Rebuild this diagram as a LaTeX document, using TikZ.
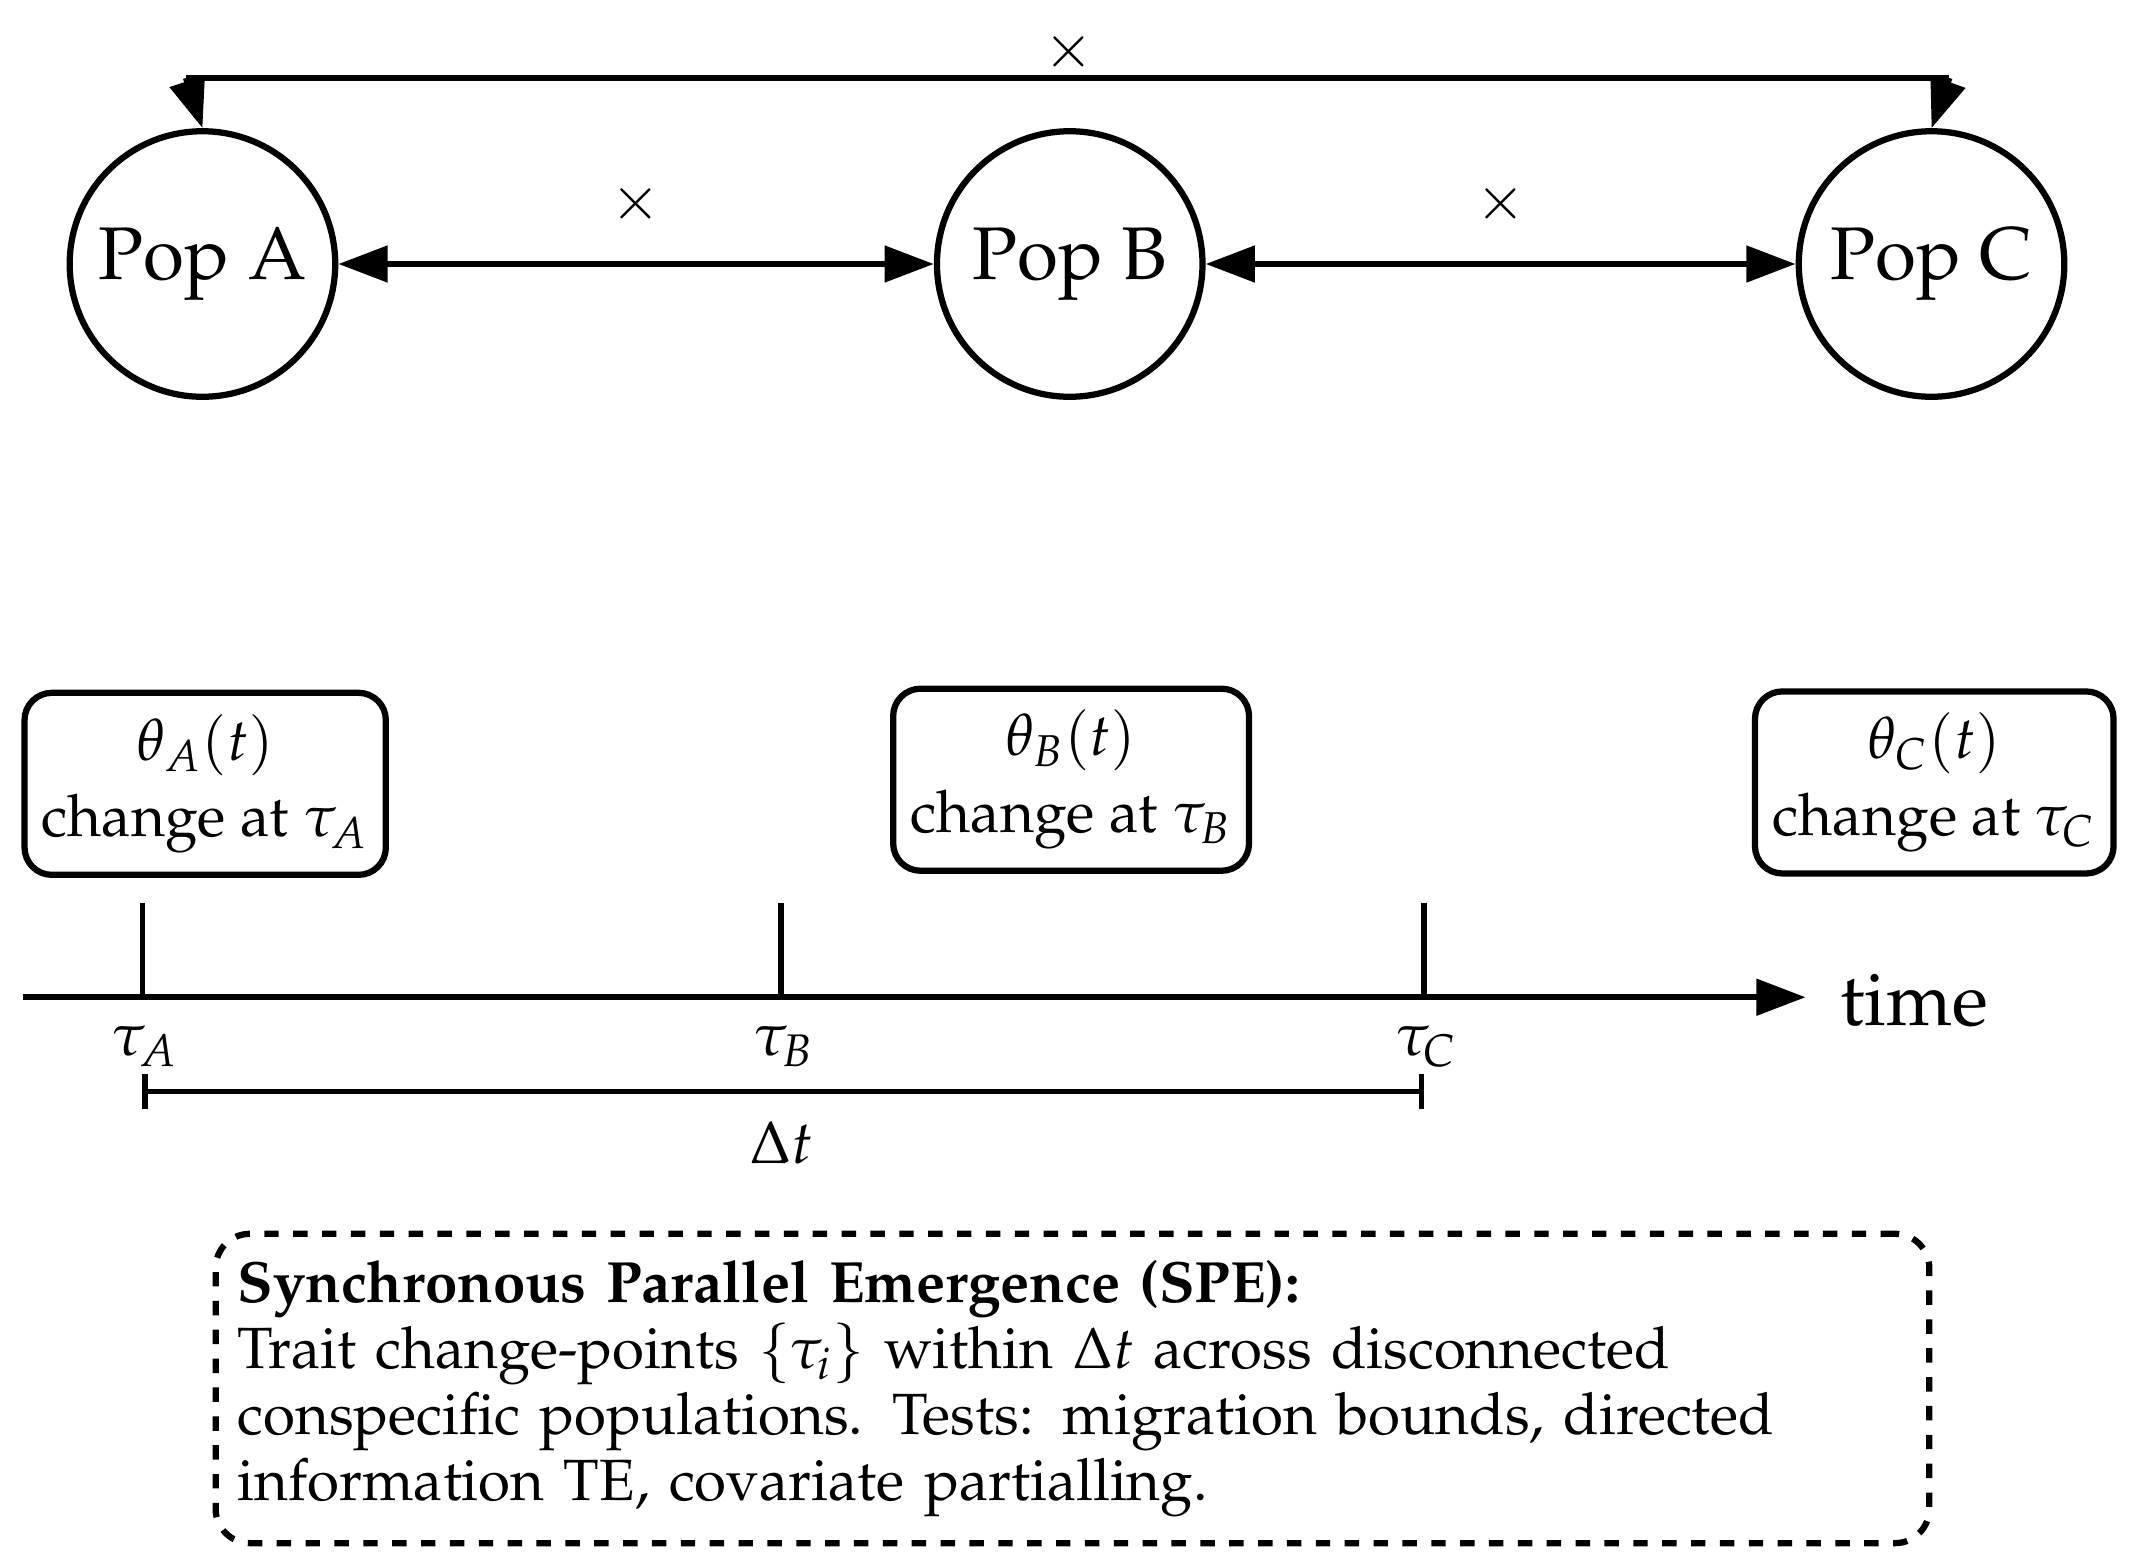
\documentclass[tikz,border=0pt]{standalone}
\usepackage[T1]{fontenc}
\usepackage{mathpazo}
\usetikzlibrary{arrows.meta}
\begin{document}
\begin{tikzpicture}[x=0.01cm,y=-0.01cm,
  pop/.style={circle,draw,line width=1.3pt,minimum size=1.94cm,inner sep=0pt,font=\fontsize{15.5}{19}\selectfont},
  box/.style={draw,line width=1.3pt,rounded corners=0.2cm,align=center,font=\fontsize{12.2}{16}\selectfont},
  arr/.style={line width=1.3pt,-{Triangle[length=0.36cm,width=0.26cm]}},
  darr/.style={line width=1.3pt,{Triangle[length=0.36cm,width=0.26cm]}-{Triangle[length=0.36cm,width=0.26cm]}},
  lab/.style={font=\fontsize{12.5}{15}\selectfont}]
\useasboundingbox (0,0) rectangle (1560,1146);
\node[pop] (A) at (148,193) {Pop A};
\node[pop] (B) at (782,193) {Pop B};
\node[pop] (C) at (1412,193) {Pop C};
\coordinate (tl) at (136,57);
\coordinate (tr) at (1425,57);
\draw[line width=1.3pt] (tl) -- (tr);
\draw[arr] (tl) -- (A.north);
\draw[arr] (tr) -- (C.north);
\node[lab] (x0) at (781,38) {$\times$};
\draw[darr] (A.east) -- (B.west) node[midway,above=0.15cm,lab] (x1) {$\times$};
\draw[darr] (B.east) -- (C.west) node[midway,above=0.15cm,lab] (x2) {$\times$};
\node[box,minimum width=2.64cm,minimum height=1.33cm] (bA) at (150,573) {$\theta_A(t)$\\change at $\tau_A$};
\node[box,minimum width=2.6cm,minimum height=1.33cm] (bB) at (783,570) {$\theta_B(t)$\\change at $\tau_B$};
\node[box,minimum width=2.62cm,minimum height=1.33cm] (bC) at (1414,572) {$\theta_C(t)$\\change at $\tau_C$};
\coordinate (ax0) at (17,729);
\coordinate (ax1) at (1320,729);
\draw[arr] (ax0) -- (ax1);
\node[lab,font=\fontsize{15.5}{19}\selectfont,anchor=west] (time) at (1333,731) {time};
\foreach \n/\x in {A/104,B/571,C/1041}{
  \coordinate (t\n) at (\x,660);
  \coordinate (b\n) at (\x,729);
  \draw[line width=1.1pt] (t\n) -- (b\n);
  \node[lab] (l\n) at (\x+2,765) {$\tau_\n$};
}
\coordinate (d0) at (104,798);
\coordinate (d1) at (1041,798);
\draw[line width=1.1pt,|-|] (d0) -- (d1);
\node[lab] (dt) at (571,835) {$\Delta t$};
\node[draw,dashed,line width=1.3pt,rounded corners=0.25cm,minimum width=12.52cm,minimum height=2.26cm,text width=12.2cm,align=left,font=\fontsize{12.1}{13.7}\selectfont] (spe) at (784,1015)
{\textbf{Synchronous Parallel Emergence (SPE):}\\Trait change-points $\{\tau_i\}$ within $\Delta t$ across disconnected\\conspecific populations. Tests: migration bounds, directed\\information TE, covariate partialling.};
\end{tikzpicture}
\end{document}
